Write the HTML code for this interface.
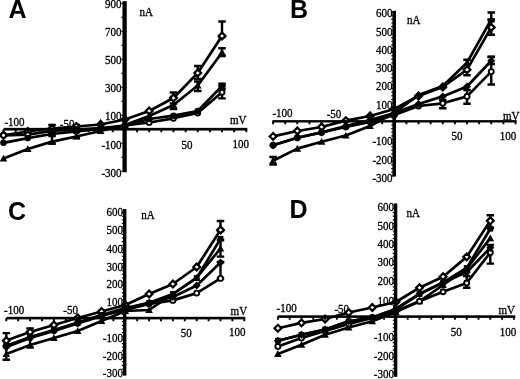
<!DOCTYPE html>
<html><head><meta charset="utf-8"><title>IV curves</title>
<style>html,body{margin:0;padding:0;background:#fff;overflow:hidden}svg{display:block;will-change:transform}</style>
</head><body>
<svg width="520" height="379" viewBox="0 0 520 379"><rect width="520" height="379" fill="#fff"/><g font-family='"Liberation Serif", serif' font-size="11.6" fill="#000" stroke="#000" stroke-width="0.3"><text x="8.5" y="18" stroke="none" style='font-family:"Liberation Sans", sans-serif;font-weight:bold' font-size="25">A</text><text transform="translate(121.6,8.4) scale(0.95,1)" text-anchor="end">900</text><text transform="translate(121.6,36.4) scale(0.95,1)" text-anchor="end">700</text><text transform="translate(121.6,64.3) scale(0.95,1)" text-anchor="end">500</text><text transform="translate(121.6,92) scale(0.95,1)" text-anchor="end">300</text><text transform="translate(121.6,120.3) scale(0.95,1)" text-anchor="end">100</text><text transform="translate(121.6,149) scale(0.95,1)" text-anchor="end">-100</text><text transform="translate(121.6,176.5) scale(0.95,1)" text-anchor="end">-300</text><text transform="translate(4.4,125.7) scale(0.95,1)">-100</text><text transform="translate(59.8,128.3) scale(0.95,1)">-50</text><text transform="translate(181.5,148.8) scale(0.95,1)">50</text><text transform="translate(232.4,148.3) scale(0.95,1)">100</text><text transform="translate(230,123.9) scale(0.95,1)">mV</text><text transform="translate(139.6,15.8) scale(0.95,1)">nA</text><text x="289.9" y="18.2" stroke="none" style='font-family:"Liberation Sans", sans-serif;font-weight:bold' font-size="25">B</text><text transform="translate(392.6,17.4) scale(0.95,1)" text-anchor="end">600</text><text transform="translate(392.6,35.8) scale(0.95,1)" text-anchor="end">500</text><text transform="translate(392.6,54) scale(0.95,1)" text-anchor="end">400</text><text transform="translate(392.6,71.5) scale(0.95,1)" text-anchor="end">300</text><text transform="translate(392.6,90.4) scale(0.95,1)" text-anchor="end">200</text><text transform="translate(392.6,108.7) scale(0.95,1)" text-anchor="end">100</text><text transform="translate(392.6,145.2) scale(0.95,1)" text-anchor="end">-100</text><text transform="translate(392.6,163.5) scale(0.95,1)" text-anchor="end">-200</text><text transform="translate(392.6,181.7) scale(0.95,1)" text-anchor="end">-300</text><text transform="translate(272.4,117.3) scale(0.95,1)">-100</text><text transform="translate(326.7,117.6) scale(0.95,1)">-50</text><text transform="translate(451.5,140) scale(0.95,1)">50</text><text transform="translate(499.7,140) scale(0.95,1)">100</text><text transform="translate(503,119.7) scale(0.95,1)">mV</text><text transform="translate(406.9,24.2) scale(0.95,1)">nA</text><text x="8" y="219.5" stroke="none" style='font-family:"Liberation Sans", sans-serif;font-weight:bold' font-size="25">C</text><text transform="translate(123,215.6) scale(0.95,1)" text-anchor="end">600</text><text transform="translate(123,234.2) scale(0.95,1)" text-anchor="end">500</text><text transform="translate(123,252.5) scale(0.95,1)" text-anchor="end">400</text><text transform="translate(123,271.1) scale(0.95,1)" text-anchor="end">300</text><text transform="translate(123,288.2) scale(0.95,1)" text-anchor="end">200</text><text transform="translate(123,306.1) scale(0.95,1)" text-anchor="end">100</text><text transform="translate(123,342) scale(0.95,1)" text-anchor="end">-100</text><text transform="translate(123,360.2) scale(0.95,1)" text-anchor="end">-200</text><text transform="translate(123,377.3) scale(0.95,1)" text-anchor="end">-300</text><text transform="translate(4,314.1) scale(0.95,1)">-100</text><text transform="translate(63.3,313.5) scale(0.95,1)">-50</text><text transform="translate(180.8,336.7) scale(0.95,1)">50</text><text transform="translate(229,336.4) scale(0.95,1)">100</text><text transform="translate(230.6,314.8) scale(0.95,1)">mV</text><text transform="translate(141.2,218.8) scale(0.95,1)">nA</text><text x="289.5" y="218.4" stroke="none" style='font-family:"Liberation Sans", sans-serif;font-weight:bold' font-size="25">D</text><text transform="translate(394,210.5) scale(0.95,1)" text-anchor="end">600</text><text transform="translate(394,230) scale(0.95,1)" text-anchor="end">500</text><text transform="translate(394,248.3) scale(0.95,1)" text-anchor="end">400</text><text transform="translate(394,266.4) scale(0.95,1)" text-anchor="end">300</text><text transform="translate(394,285.2) scale(0.95,1)" text-anchor="end">200</text><text transform="translate(394,304.8) scale(0.95,1)" text-anchor="end">100</text><text transform="translate(394,341.3) scale(0.95,1)" text-anchor="end">-100</text><text transform="translate(394,359.9) scale(0.95,1)" text-anchor="end">-200</text><text transform="translate(394,378) scale(0.95,1)" text-anchor="end">-300</text><text transform="translate(276.6,312.4) scale(0.95,1)">-100</text><text transform="translate(334.4,313.2) scale(0.95,1)">-50</text><text transform="translate(450.8,336) scale(0.95,1)">50</text><text transform="translate(499.8,335.5) scale(0.95,1)">100</text><text transform="translate(498.5,313.5) scale(0.95,1)">mV</text><text transform="translate(406.5,216.5) scale(0.95,1)">nA</text></g><g><polyline points="3.5,135.3 27.78,131.5 52.06,128.5 76.34,126.5 100.62,124.5 124.9,119.5 149.18,111 173.46,98 197.74,73 222.02,36" fill="none" stroke="#000" stroke-width="2.7" stroke-linejoin="round"/><polyline points="3.5,158.5 27.78,149 52.06,141.6 76.34,136.5 100.62,131 124.9,125 149.18,116 173.46,105 197.74,85.5 222.02,52.5" fill="none" stroke="#000" stroke-width="2.7" stroke-linejoin="round"/><polyline points="3.5,135.3 27.78,134.7 52.06,131 76.34,129.5 100.62,128 124.9,125.5 149.18,122.5 173.46,118.3 197.74,113 222.02,92.3" fill="none" stroke="#000" stroke-width="2.7" stroke-linejoin="round"/><polyline points="3.5,142.8 27.78,138.1 52.06,134 76.34,131.5 100.62,129 124.9,126 149.18,119 173.46,115.7 197.74,111 222.02,86" fill="none" stroke="#000" stroke-width="2.7" stroke-linejoin="round"/><path d="M52.06 125V133M48.31 125H55.81M48.31 133H55.81" stroke="#000" stroke-width="2.4" fill="none"/><path d="M76.34 125V131M72.59 125H80.09M72.59 131H80.09" stroke="#000" stroke-width="2.4" fill="none"/><path d="M173.46 92.5V103.5M169.71 92.5H177.21M169.71 103.5H177.21" stroke="#000" stroke-width="2.4" fill="none"/><path d="M197.74 66V79M193.99 66H201.49M193.99 79H201.49" stroke="#000" stroke-width="2.4" fill="none"/><path d="M222.02 21.5V37M218.27 21.5H225.77M218.27 37H225.77" stroke="#000" stroke-width="2.4" fill="none"/><path d="M52.06 136V143.5M48.31 136H55.81M48.31 143.5H55.81" stroke="#000" stroke-width="2.4" fill="none"/><path d="M76.34 132V138M72.59 132H80.09M72.59 138H80.09" stroke="#000" stroke-width="2.4" fill="none"/><path d="M173.46 97V109M169.71 97H177.21M169.71 109H177.21" stroke="#000" stroke-width="2.4" fill="none"/><path d="M197.74 81.5V91M193.99 81.5H201.49M193.99 91H201.49" stroke="#000" stroke-width="2.4" fill="none"/><path d="M222.02 48.2V56M218.27 48.2H225.77M218.27 56H225.77" stroke="#000" stroke-width="2.4" fill="none"/><path d="M222.02 86V98.4M218.27 86H225.77M218.27 98.4H225.77" stroke="#000" stroke-width="2.4" fill="none"/><path d="M222.02 83.6V89M218.27 83.6H225.77M218.27 89H225.77" stroke="#000" stroke-width="2.4" fill="none"/><path d="M3.5 131.9L6.9 135.3L3.5 138.7L0.1 135.3Z" fill="#fff" stroke="#000" stroke-width="2.2"/><path d="M27.78 128.1L31.18 131.5L27.78 134.9L24.38 131.5Z" fill="#fff" stroke="#000" stroke-width="2.2"/><path d="M52.06 125.1L55.46 128.5L52.06 131.9L48.66 128.5Z" fill="#fff" stroke="#000" stroke-width="2.2"/><path d="M76.34 123.1L79.74 126.5L76.34 129.9L72.94 126.5Z" fill="#fff" stroke="#000" stroke-width="2.2"/><path d="M100.62 121.1L104.02 124.5L100.62 127.9L97.22 124.5Z" fill="#fff" stroke="#000" stroke-width="2.2"/><path d="M124.9 116.1L128.3 119.5L124.9 122.9L121.5 119.5Z" fill="#fff" stroke="#000" stroke-width="2.2"/><path d="M149.18 107.6L152.58 111L149.18 114.4L145.78 111Z" fill="#fff" stroke="#000" stroke-width="2.2"/><path d="M173.46 94.6L176.86 98L173.46 101.4L170.06 98Z" fill="#fff" stroke="#000" stroke-width="2.2"/><path d="M197.74 69.6L201.14 73L197.74 76.4L194.34 73Z" fill="#fff" stroke="#000" stroke-width="2.2"/><path d="M222.02 32.6L225.42 36L222.02 39.4L218.62 36Z" fill="#fff" stroke="#000" stroke-width="2.2"/><path d="M3.5 154.7L7.3 161.54L-0.3 161.54Z" fill="#000"/><path d="M27.78 145.2L31.58 152.04L23.98 152.04Z" fill="#000"/><path d="M52.06 137.8L55.86 144.64L48.26 144.64Z" fill="#000"/><path d="M76.34 132.7L80.14 139.54L72.54 139.54Z" fill="#000"/><path d="M100.62 127.2L104.42 134.04L96.82 134.04Z" fill="#000"/><path d="M124.9 121.2L128.7 128.04L121.1 128.04Z" fill="#000"/><path d="M149.18 112.2L152.98 119.04L145.38 119.04Z" fill="#000"/><path d="M173.46 101.2L177.26 108.04L169.66 108.04Z" fill="#000"/><path d="M197.74 81.7L201.54 88.54L193.94 88.54Z" fill="#000"/><path d="M222.02 48.7L225.82 55.54L218.22 55.54Z" fill="#000"/><circle cx="3.5" cy="135.3" r="2.5" fill="#fff" stroke="#000" stroke-width="1.9"/><circle cx="27.78" cy="134.7" r="2.5" fill="#fff" stroke="#000" stroke-width="1.9"/><circle cx="52.06" cy="131" r="2.5" fill="#fff" stroke="#000" stroke-width="1.9"/><circle cx="76.34" cy="129.5" r="2.5" fill="#fff" stroke="#000" stroke-width="1.9"/><circle cx="100.62" cy="128" r="2.5" fill="#fff" stroke="#000" stroke-width="1.9"/><circle cx="124.9" cy="125.5" r="2.5" fill="#fff" stroke="#000" stroke-width="1.9"/><circle cx="149.18" cy="122.5" r="2.5" fill="#fff" stroke="#000" stroke-width="1.9"/><circle cx="173.46" cy="118.3" r="2.5" fill="#fff" stroke="#000" stroke-width="1.9"/><circle cx="197.74" cy="113" r="2.5" fill="#fff" stroke="#000" stroke-width="1.9"/><circle cx="222.02" cy="92.3" r="2.5" fill="#fff" stroke="#000" stroke-width="1.9"/><circle cx="3.5" cy="142.8" r="3.3" fill="#000"/><circle cx="27.78" cy="138.1" r="3.3" fill="#000"/><circle cx="52.06" cy="134" r="3.3" fill="#000"/><circle cx="76.34" cy="131.5" r="3.3" fill="#000"/><circle cx="100.62" cy="129" r="3.3" fill="#000"/><circle cx="124.9" cy="126" r="3.3" fill="#000"/><circle cx="149.18" cy="119" r="3.3" fill="#000"/><circle cx="173.46" cy="115.7" r="3.3" fill="#000"/><circle cx="197.74" cy="111" r="3.3" fill="#000"/><circle cx="222.02" cy="86" r="3.3" fill="#000"/><path d="M100.62 118.7L104.42 125.54L96.82 125.54Z" fill="#000"/></g><g><rect x="122.45" y="1.2" width="4.3" height="171" fill="#000"/><rect x="3.6" y="127.85" width="243.7" height="2.7" fill="#000"/><path d="M3.5 129.2V132.35M15.64 129.2V132.35M27.78 129.2V132.35M39.92 129.2V132.35M52.06 129.2V132.35M64.2 129.2V132.35M76.34 129.2V132.35M88.48 129.2V132.35M100.62 129.2V132.35M112.76 129.2V132.35M124.9 129.2V132.35M137.04 129.2V132.35M149.18 129.2V132.35M161.32 129.2V132.35M173.46 129.2V132.35M185.6 129.2V132.35M197.74 129.2V132.35M209.88 129.2V132.35M222.02 129.2V132.35M234.16 129.2V132.35M246.3 129.2V132.35" stroke="#000" stroke-width="1.9"/><path d="M121.25 171.2H124.6M121.25 157.2H124.6M121.25 143.2H124.6M121.25 129.2H124.6M121.25 115.2H124.6M121.25 101.2H124.6M121.25 87.2H124.6M121.25 73.2H124.6M121.25 59.2H124.6M121.25 45.2H124.6M121.25 31.2H124.6M121.25 17.2H124.6M121.25 3.2H124.6" stroke="#000" stroke-width="1.1"/></g><g><polyline points="273.1,136.4 297.34,131 321.58,127 345.82,120.6 370.06,116 394.3,109 418.54,96 442.78,87 467.02,69.7 491.26,27.4" fill="none" stroke="#000" stroke-width="2.7" stroke-linejoin="round"/><polyline points="273.1,160.7 297.34,148.6 321.58,141.8 345.82,135.5 370.06,126 394.3,113 418.54,95 442.78,86 467.02,62.7 491.26,19.5" fill="none" stroke="#000" stroke-width="2.7" stroke-linejoin="round"/><polyline points="273.1,145.2 297.34,137.8 321.58,132.4 345.82,127 370.06,122 394.3,115 418.54,106 442.78,103.3 467.02,96.4 491.26,71.6" fill="none" stroke="#000" stroke-width="2.7" stroke-linejoin="round"/><polyline points="273.1,145.2 297.34,137.8 321.58,132.4 345.82,126 370.06,120 394.3,113 418.54,104 442.78,96.4 467.02,86.5 491.26,60.8" fill="none" stroke="#000" stroke-width="2.7" stroke-linejoin="round"/><path d="M467.02 59.8V75.2M463.27 59.8H470.77M463.27 75.2H470.77" stroke="#000" stroke-width="2.4" fill="none"/><path d="M491.26 20V34.7M487.51 20H495.01M487.51 34.7H495.01" stroke="#000" stroke-width="2.4" fill="none"/><path d="M273.1 157V164.5M269.35 157H276.85M269.35 164.5H276.85" stroke="#000" stroke-width="2.4" fill="none"/><path d="M491.26 12.5V19.5M487.51 12.5H495.01M487.51 19.5H495.01" stroke="#000" stroke-width="2.4" fill="none"/><path d="M442.78 100V108.2M439.03 100H446.53M439.03 108.2H446.53" stroke="#000" stroke-width="2.4" fill="none"/><path d="M467.02 90V103.7M463.27 90H470.77M463.27 103.7H470.77" stroke="#000" stroke-width="2.4" fill="none"/><path d="M491.26 57V84.5M487.51 57H495.01M487.51 84.5H495.01" stroke="#000" stroke-width="2.4" fill="none"/><path d="M491.26 56.8V64M487.51 56.8H495.01M487.51 64H495.01" stroke="#000" stroke-width="2.4" fill="none"/><path d="M273.1 133L276.5 136.4L273.1 139.8L269.7 136.4Z" fill="#fff" stroke="#000" stroke-width="2.2"/><path d="M297.34 127.6L300.74 131L297.34 134.4L293.94 131Z" fill="#fff" stroke="#000" stroke-width="2.2"/><path d="M321.58 123.6L324.98 127L321.58 130.4L318.18 127Z" fill="#fff" stroke="#000" stroke-width="2.2"/><path d="M345.82 117.2L349.22 120.6L345.82 124L342.42 120.6Z" fill="#fff" stroke="#000" stroke-width="2.2"/><path d="M370.06 112.6L373.46 116L370.06 119.4L366.66 116Z" fill="#fff" stroke="#000" stroke-width="2.2"/><path d="M394.3 105.6L397.7 109L394.3 112.4L390.9 109Z" fill="#fff" stroke="#000" stroke-width="2.2"/><path d="M418.54 92.6L421.94 96L418.54 99.4L415.14 96Z" fill="#fff" stroke="#000" stroke-width="2.2"/><path d="M442.78 83.6L446.18 87L442.78 90.4L439.38 87Z" fill="#fff" stroke="#000" stroke-width="2.2"/><path d="M467.02 66.3L470.42 69.7L467.02 73.1L463.62 69.7Z" fill="#fff" stroke="#000" stroke-width="2.2"/><path d="M491.26 24L494.66 27.4L491.26 30.8L487.86 27.4Z" fill="#fff" stroke="#000" stroke-width="2.2"/><path d="M273.1 156.9L276.9 163.74L269.3 163.74Z" fill="#000"/><path d="M297.34 144.8L301.14 151.64L293.54 151.64Z" fill="#000"/><path d="M321.58 138L325.38 144.84L317.78 144.84Z" fill="#000"/><path d="M345.82 131.7L349.62 138.54L342.02 138.54Z" fill="#000"/><path d="M370.06 122.2L373.86 129.04L366.26 129.04Z" fill="#000"/><path d="M394.3 109.2L398.1 116.04L390.5 116.04Z" fill="#000"/><path d="M418.54 91.2L422.34 98.04L414.74 98.04Z" fill="#000"/><path d="M442.78 82.2L446.58 89.04L438.98 89.04Z" fill="#000"/><path d="M467.02 58.9L470.82 65.74L463.22 65.74Z" fill="#000"/><path d="M491.26 15.7L495.06 22.54L487.46 22.54Z" fill="#000"/><circle cx="273.1" cy="145.2" r="2.5" fill="#fff" stroke="#000" stroke-width="1.9"/><circle cx="297.34" cy="137.8" r="2.5" fill="#fff" stroke="#000" stroke-width="1.9"/><circle cx="321.58" cy="132.4" r="2.5" fill="#fff" stroke="#000" stroke-width="1.9"/><circle cx="345.82" cy="127" r="2.5" fill="#fff" stroke="#000" stroke-width="1.9"/><circle cx="370.06" cy="122" r="2.5" fill="#fff" stroke="#000" stroke-width="1.9"/><circle cx="394.3" cy="115" r="2.5" fill="#fff" stroke="#000" stroke-width="1.9"/><circle cx="418.54" cy="106" r="2.5" fill="#fff" stroke="#000" stroke-width="1.9"/><circle cx="442.78" cy="103.3" r="2.5" fill="#fff" stroke="#000" stroke-width="1.9"/><circle cx="467.02" cy="96.4" r="2.5" fill="#fff" stroke="#000" stroke-width="1.9"/><circle cx="491.26" cy="71.6" r="2.5" fill="#fff" stroke="#000" stroke-width="1.9"/><path d="M273.1 141.2L277.1 145.2L273.1 149.2L269.1 145.2Z" fill="#000"/><path d="M297.34 133.8L301.34 137.8L297.34 141.8L293.34 137.8Z" fill="#000"/><path d="M321.58 128.4L325.58 132.4L321.58 136.4L317.58 132.4Z" fill="#000"/><path d="M345.82 122L349.82 126L345.82 130L341.82 126Z" fill="#000"/><path d="M370.06 116L374.06 120L370.06 124L366.06 120Z" fill="#000"/><path d="M394.3 109L398.3 113L394.3 117L390.3 113Z" fill="#000"/><path d="M418.54 100L422.54 104L418.54 108L414.54 104Z" fill="#000"/><path d="M442.78 92.4L446.78 96.4L442.78 100.4L438.78 96.4Z" fill="#000"/><path d="M467.02 82.5L471.02 86.5L467.02 90.5L463.02 86.5Z" fill="#000"/><path d="M491.26 56.8L495.26 60.8L491.26 64.8L487.26 60.8Z" fill="#000"/><path d="M370.06 111L373.86 117.84L366.26 117.84Z" fill="#000"/></g><g><rect x="392.4" y="10.8" width="3.6" height="165.7" fill="#000"/><rect x="272.4" y="120.1" width="244.2" height="2.4" fill="#000"/><path d="M273.1 121.3V124.3M285.22 121.3V124.3M297.34 121.3V124.3M309.46 121.3V124.3M321.58 121.3V124.3M333.7 121.3V124.3M345.82 121.3V124.3M357.94 121.3V124.3M370.06 121.3V124.3M382.18 121.3V124.3M394.3 121.3V124.3M406.42 121.3V124.3M418.54 121.3V124.3M430.66 121.3V124.3M442.78 121.3V124.3M454.9 121.3V124.3M467.02 121.3V124.3M479.14 121.3V124.3M491.26 121.3V124.3M503.38 121.3V124.3M515.5 121.3V124.3" stroke="#000" stroke-width="1.9"/><path d="M391.2 175.9H394.2M391.2 172.26H394.2M391.2 168.62H394.2M391.2 164.98H394.2M391.2 161.34H394.2M391.2 157.7H394.2M391.2 154.06H394.2M391.2 150.42H394.2M391.2 146.78H394.2M391.2 143.14H394.2M391.2 139.5H394.2M391.2 135.86H394.2M391.2 132.22H394.2M391.2 128.58H394.2M391.2 124.94H394.2M391.2 121.3H394.2M391.2 117.66H394.2M391.2 114.02H394.2M391.2 110.38H394.2M391.2 106.74H394.2M391.2 103.1H394.2M391.2 99.46H394.2M391.2 95.82H394.2M391.2 92.18H394.2M391.2 88.54H394.2M391.2 84.9H394.2M391.2 81.26H394.2M391.2 77.62H394.2M391.2 73.98H394.2M391.2 70.34H394.2M391.2 66.7H394.2M391.2 63.06H394.2M391.2 59.42H394.2M391.2 55.78H394.2M391.2 52.14H394.2M391.2 48.5H394.2M391.2 44.86H394.2M391.2 41.22H394.2M391.2 37.58H394.2M391.2 33.94H394.2M391.2 30.3H394.2M391.2 26.66H394.2M391.2 23.02H394.2M391.2 19.38H394.2M391.2 15.74H394.2M391.2 12.1H394.2" stroke="#000" stroke-width="1.1"/></g><g><polyline points="6.3,340.6 30.1,332 53.9,325 77.7,318 101.5,311.5 125.3,305 149.1,294 172.9,284 196.7,267 220.5,230" fill="none" stroke="#000" stroke-width="2.7" stroke-linejoin="round"/><polyline points="6.3,346 30.1,337 53.9,330 77.7,322.5 101.5,315 125.3,308 149.1,302.8 172.9,294 196.7,278 220.5,238.8" fill="none" stroke="#000" stroke-width="2.7" stroke-linejoin="round"/><polyline points="6.3,354 30.1,345 53.9,338 77.7,331 101.5,321 125.3,311 149.1,310 172.9,294 196.7,277.7 220.5,248.5" fill="none" stroke="#000" stroke-width="2.7" stroke-linejoin="round"/><polyline points="6.3,346 30.1,337.5 53.9,330.5 77.7,323 101.5,315.5 125.3,310 149.1,304 172.9,300.4 196.7,293.1 220.5,278.4" fill="none" stroke="#000" stroke-width="2.7" stroke-linejoin="round"/><polyline points="6.3,347 30.1,338 53.9,331 77.7,323.5 101.5,316 125.3,309 149.1,302.8 172.9,297 196.7,285.5 220.5,262.5" fill="none" stroke="#000" stroke-width="2.7" stroke-linejoin="round"/><path d="M6.3 333.1V341M2.55 333.1H10.05M2.55 341H10.05" stroke="#000" stroke-width="2.4" fill="none"/><path d="M220.5 221V231M216.75 221H224.25M216.75 231H224.25" stroke="#000" stroke-width="2.4" fill="none"/><path d="M6.3 346V359.8M2.55 346H10.05M2.55 359.8H10.05" stroke="#000" stroke-width="2.4" fill="none"/><path d="M30.1 328.4V347.6M26.35 328.4H33.85M26.35 347.6H33.85" stroke="#000" stroke-width="2.4" fill="none"/><path d="M220.5 240V256.6M216.75 240H224.25M216.75 256.6H224.25" stroke="#000" stroke-width="2.4" fill="none"/><path d="M220.5 262V278.4M216.75 262H224.25M216.75 278.4H224.25" stroke="#000" stroke-width="2.4" fill="none"/><path d="M6.3 337.2L9.7 340.6L6.3 344L2.9 340.6Z" fill="#fff" stroke="#000" stroke-width="2.2"/><path d="M30.1 328.6L33.5 332L30.1 335.4L26.7 332Z" fill="#fff" stroke="#000" stroke-width="2.2"/><path d="M53.9 321.6L57.3 325L53.9 328.4L50.5 325Z" fill="#fff" stroke="#000" stroke-width="2.2"/><path d="M77.7 314.6L81.1 318L77.7 321.4L74.3 318Z" fill="#fff" stroke="#000" stroke-width="2.2"/><path d="M101.5 308.1L104.9 311.5L101.5 314.9L98.1 311.5Z" fill="#fff" stroke="#000" stroke-width="2.2"/><path d="M125.3 301.6L128.7 305L125.3 308.4L121.9 305Z" fill="#fff" stroke="#000" stroke-width="2.2"/><path d="M149.1 290.6L152.5 294L149.1 297.4L145.7 294Z" fill="#fff" stroke="#000" stroke-width="2.2"/><path d="M172.9 280.6L176.3 284L172.9 287.4L169.5 284Z" fill="#fff" stroke="#000" stroke-width="2.2"/><path d="M196.7 263.6L200.1 267L196.7 270.4L193.3 267Z" fill="#fff" stroke="#000" stroke-width="2.2"/><path d="M220.5 226.6L223.9 230L220.5 233.4L217.1 230Z" fill="#fff" stroke="#000" stroke-width="2.2"/><rect x="3.4" y="343.1" width="5.8" height="5.8" fill="#000"/><rect x="27.2" y="334.1" width="5.8" height="5.8" fill="#000"/><rect x="51" y="327.1" width="5.8" height="5.8" fill="#000"/><rect x="74.8" y="319.6" width="5.8" height="5.8" fill="#000"/><rect x="98.6" y="312.1" width="5.8" height="5.8" fill="#000"/><rect x="122.4" y="305.1" width="5.8" height="5.8" fill="#000"/><rect x="146.2" y="299.9" width="5.8" height="5.8" fill="#000"/><rect x="170" y="291.1" width="5.8" height="5.8" fill="#000"/><rect x="193.8" y="275.1" width="5.8" height="5.8" fill="#000"/><rect x="217.6" y="235.9" width="5.8" height="5.8" fill="#000"/><path d="M6.3 350.2L10.1 357.04L2.5 357.04Z" fill="#000"/><path d="M30.1 341.2L33.9 348.04L26.3 348.04Z" fill="#000"/><path d="M53.9 334.2L57.7 341.04L50.1 341.04Z" fill="#000"/><path d="M77.7 327.2L81.5 334.04L73.9 334.04Z" fill="#000"/><path d="M101.5 317.2L105.3 324.04L97.7 324.04Z" fill="#000"/><path d="M125.3 307.2L129.1 314.04L121.5 314.04Z" fill="#000"/><path d="M149.1 306.2L152.9 313.04L145.3 313.04Z" fill="#000"/><path d="M172.9 290.2L176.7 297.04L169.1 297.04Z" fill="#000"/><path d="M196.7 273.9L200.5 280.74L192.9 280.74Z" fill="#000"/><path d="M220.5 244.7L224.3 251.54L216.7 251.54Z" fill="#000"/><circle cx="6.3" cy="346" r="2.5" fill="#fff" stroke="#000" stroke-width="1.9"/><circle cx="30.1" cy="337.5" r="2.5" fill="#fff" stroke="#000" stroke-width="1.9"/><circle cx="53.9" cy="330.5" r="2.5" fill="#fff" stroke="#000" stroke-width="1.9"/><circle cx="77.7" cy="323" r="2.5" fill="#fff" stroke="#000" stroke-width="1.9"/><circle cx="101.5" cy="315.5" r="2.5" fill="#fff" stroke="#000" stroke-width="1.9"/><circle cx="125.3" cy="310" r="2.5" fill="#fff" stroke="#000" stroke-width="1.9"/><circle cx="149.1" cy="304" r="2.5" fill="#fff" stroke="#000" stroke-width="1.9"/><circle cx="172.9" cy="300.4" r="2.5" fill="#fff" stroke="#000" stroke-width="1.9"/><circle cx="196.7" cy="293.1" r="2.5" fill="#fff" stroke="#000" stroke-width="1.9"/><circle cx="220.5" cy="278.4" r="2.5" fill="#fff" stroke="#000" stroke-width="1.9"/><path d="M6.3 343L10.3 347L6.3 351L2.3 347Z" fill="#000"/><path d="M30.1 334L34.1 338L30.1 342L26.1 338Z" fill="#000"/><path d="M53.9 327L57.9 331L53.9 335L49.9 331Z" fill="#000"/><path d="M77.7 319.5L81.7 323.5L77.7 327.5L73.7 323.5Z" fill="#000"/><path d="M101.5 312L105.5 316L101.5 320L97.5 316Z" fill="#000"/><path d="M125.3 305L129.3 309L125.3 313L121.3 309Z" fill="#000"/><path d="M149.1 298.8L153.1 302.8L149.1 306.8L145.1 302.8Z" fill="#000"/><path d="M172.9 293L176.9 297L172.9 301L168.9 297Z" fill="#000"/><path d="M196.7 281.5L200.7 285.5L196.7 289.5L192.7 285.5Z" fill="#000"/><path d="M220.5 258.5L224.5 262.5L220.5 266.5L216.5 262.5Z" fill="#000"/></g><g><rect x="123" y="209" width="3.4" height="166.6" fill="#000"/><rect x="6.6" y="316.8" width="238.6" height="2.6" fill="#000"/><path d="M6.3 318.1V321.2M18.2 318.1V321.2M30.1 318.1V321.2M42 318.1V321.2M53.9 318.1V321.2M65.8 318.1V321.2M77.7 318.1V321.2M89.6 318.1V321.2M101.5 318.1V321.2M113.4 318.1V321.2M125.3 318.1V321.2M137.2 318.1V321.2M149.1 318.1V321.2M161 318.1V321.2M172.9 318.1V321.2M184.8 318.1V321.2M196.7 318.1V321.2M208.6 318.1V321.2M220.5 318.1V321.2M232.4 318.1V321.2M244.3 318.1V321.2" stroke="#000" stroke-width="1.9"/><path d="M121.8 372.7H124.7M121.8 369.06H124.7M121.8 365.42H124.7M121.8 361.78H124.7M121.8 358.14H124.7M121.8 354.5H124.7M121.8 350.86H124.7M121.8 347.22H124.7M121.8 343.58H124.7M121.8 339.94H124.7M121.8 336.3H124.7M121.8 332.66H124.7M121.8 329.02H124.7M121.8 325.38H124.7M121.8 321.74H124.7M121.8 318.1H124.7M121.8 314.46H124.7M121.8 310.82H124.7M121.8 307.18H124.7M121.8 303.54H124.7M121.8 299.9H124.7M121.8 296.26H124.7M121.8 292.62H124.7M121.8 288.98H124.7M121.8 285.34H124.7M121.8 281.7H124.7M121.8 278.06H124.7M121.8 274.42H124.7M121.8 270.78H124.7M121.8 267.14H124.7M121.8 263.5H124.7M121.8 259.86H124.7M121.8 256.22H124.7M121.8 252.58H124.7M121.8 248.94H124.7M121.8 245.3H124.7M121.8 241.66H124.7M121.8 238.02H124.7M121.8 234.38H124.7M121.8 230.74H124.7M121.8 227.1H124.7M121.8 223.46H124.7M121.8 219.82H124.7M121.8 216.18H124.7M121.8 212.54H124.7" stroke="#000" stroke-width="1.1"/></g><g><polyline points="277.9,328.2 301.5,322.9 325.1,319 348.7,312.5 372.3,307.5 395.9,302 419.5,287.7 443.1,276.7 466.7,256.9 490.3,220.8" fill="none" stroke="#000" stroke-width="2.7" stroke-linejoin="round"/><polyline points="277.9,340.7 301.5,334.8 325.1,329.5 348.7,321.3 372.3,317.5 395.9,309 419.5,294 443.1,282.5 466.7,268 490.3,228.7" fill="none" stroke="#000" stroke-width="2.7" stroke-linejoin="round"/><polyline points="277.9,353.9 301.5,344.7 325.1,334.8 348.7,327.5 372.3,321.3 395.9,312 419.5,301.3 443.1,285 466.7,268.7 490.3,238.2" fill="none" stroke="#000" stroke-width="2.7" stroke-linejoin="round"/><polyline points="277.9,346.4 301.5,338 325.1,331 348.7,324 372.3,318 395.9,311 419.5,301.3 443.1,291.7 466.7,283 490.3,252.5" fill="none" stroke="#000" stroke-width="2.7" stroke-linejoin="round"/><polyline points="277.9,340.7 301.5,334.8 325.1,329.5 348.7,321.3 372.3,317.5 395.9,309 419.5,294 443.1,282.5 466.7,272.3 490.3,247.7" fill="none" stroke="#000" stroke-width="2.7" stroke-linejoin="round"/><path d="M490.3 215.3V228M486.55 215.3H494.05M486.55 228H494.05" stroke="#000" stroke-width="2.4" fill="none"/><path d="M466.7 276V287.7M462.95 276H470.45M462.95 287.7H470.45" stroke="#000" stroke-width="2.4" fill="none"/><path d="M490.3 245V263.6M486.55 245H494.05M486.55 263.6H494.05" stroke="#000" stroke-width="2.4" fill="none"/><path d="M277.9 324.8L281.3 328.2L277.9 331.6L274.5 328.2Z" fill="#fff" stroke="#000" stroke-width="2.2"/><path d="M301.5 319.5L304.9 322.9L301.5 326.3L298.1 322.9Z" fill="#fff" stroke="#000" stroke-width="2.2"/><path d="M325.1 315.6L328.5 319L325.1 322.4L321.7 319Z" fill="#fff" stroke="#000" stroke-width="2.2"/><path d="M348.7 309.1L352.1 312.5L348.7 315.9L345.3 312.5Z" fill="#fff" stroke="#000" stroke-width="2.2"/><path d="M372.3 304.1L375.7 307.5L372.3 310.9L368.9 307.5Z" fill="#fff" stroke="#000" stroke-width="2.2"/><path d="M395.9 298.6L399.3 302L395.9 305.4L392.5 302Z" fill="#fff" stroke="#000" stroke-width="2.2"/><path d="M419.5 284.3L422.9 287.7L419.5 291.1L416.1 287.7Z" fill="#fff" stroke="#000" stroke-width="2.2"/><path d="M443.1 273.3L446.5 276.7L443.1 280.1L439.7 276.7Z" fill="#fff" stroke="#000" stroke-width="2.2"/><path d="M466.7 253.5L470.1 256.9L466.7 260.3L463.3 256.9Z" fill="#fff" stroke="#000" stroke-width="2.2"/><path d="M490.3 217.4L493.7 220.8L490.3 224.2L486.9 220.8Z" fill="#fff" stroke="#000" stroke-width="2.2"/><rect x="275" y="337.8" width="5.8" height="5.8" fill="#000"/><rect x="298.6" y="331.9" width="5.8" height="5.8" fill="#000"/><rect x="322.2" y="326.6" width="5.8" height="5.8" fill="#000"/><rect x="345.8" y="318.4" width="5.8" height="5.8" fill="#000"/><rect x="369.4" y="314.6" width="5.8" height="5.8" fill="#000"/><rect x="393" y="306.1" width="5.8" height="5.8" fill="#000"/><rect x="416.6" y="291.1" width="5.8" height="5.8" fill="#000"/><rect x="440.2" y="279.6" width="5.8" height="5.8" fill="#000"/><rect x="463.8" y="265.1" width="5.8" height="5.8" fill="#000"/><rect x="487.4" y="225.8" width="5.8" height="5.8" fill="#000"/><path d="M277.9 350.1L281.7 356.94L274.1 356.94Z" fill="#000"/><path d="M301.5 340.9L305.3 347.74L297.7 347.74Z" fill="#000"/><path d="M325.1 331L328.9 337.84L321.3 337.84Z" fill="#000"/><path d="M348.7 323.7L352.5 330.54L344.9 330.54Z" fill="#000"/><path d="M372.3 317.5L376.1 324.34L368.5 324.34Z" fill="#000"/><path d="M395.9 308.2L399.7 315.04L392.1 315.04Z" fill="#000"/><path d="M419.5 297.5L423.3 304.34L415.7 304.34Z" fill="#000"/><path d="M443.1 281.2L446.9 288.04L439.3 288.04Z" fill="#000"/><path d="M466.7 264.9L470.5 271.74L462.9 271.74Z" fill="#000"/><path d="M490.3 234.4L494.1 241.24L486.5 241.24Z" fill="#000"/><circle cx="277.9" cy="346.4" r="2.5" fill="#fff" stroke="#000" stroke-width="1.9"/><circle cx="301.5" cy="338" r="2.5" fill="#fff" stroke="#000" stroke-width="1.9"/><circle cx="325.1" cy="331" r="2.5" fill="#fff" stroke="#000" stroke-width="1.9"/><circle cx="348.7" cy="324" r="2.5" fill="#fff" stroke="#000" stroke-width="1.9"/><circle cx="372.3" cy="318" r="2.5" fill="#fff" stroke="#000" stroke-width="1.9"/><circle cx="395.9" cy="311" r="2.5" fill="#fff" stroke="#000" stroke-width="1.9"/><circle cx="419.5" cy="301.3" r="2.5" fill="#fff" stroke="#000" stroke-width="1.9"/><circle cx="443.1" cy="291.7" r="2.5" fill="#fff" stroke="#000" stroke-width="1.9"/><circle cx="466.7" cy="283" r="2.5" fill="#fff" stroke="#000" stroke-width="1.9"/><circle cx="490.3" cy="252.5" r="2.5" fill="#fff" stroke="#000" stroke-width="1.9"/><path d="M277.9 336.7L281.9 340.7L277.9 344.7L273.9 340.7Z" fill="#000"/><path d="M301.5 330.8L305.5 334.8L301.5 338.8L297.5 334.8Z" fill="#000"/><path d="M325.1 325.5L329.1 329.5L325.1 333.5L321.1 329.5Z" fill="#000"/><path d="M348.7 317.3L352.7 321.3L348.7 325.3L344.7 321.3Z" fill="#000"/><path d="M372.3 313.5L376.3 317.5L372.3 321.5L368.3 317.5Z" fill="#000"/><path d="M395.9 305L399.9 309L395.9 313L391.9 309Z" fill="#000"/><path d="M419.5 290L423.5 294L419.5 298L415.5 294Z" fill="#000"/><path d="M443.1 278.5L447.1 282.5L443.1 286.5L439.1 282.5Z" fill="#000"/><path d="M466.7 268.3L470.7 272.3L466.7 276.3L462.7 272.3Z" fill="#000"/><path d="M490.3 243.7L494.3 247.7L490.3 251.7L486.3 247.7Z" fill="#000"/></g><g><rect x="393.9" y="203.4" width="3.4" height="173.4" fill="#000"/><rect x="277.9" y="315.3" width="237.4" height="2.6" fill="#000"/><path d="M277.9 316.6V319.7M289.7 316.6V319.7M301.5 316.6V319.7M313.3 316.6V319.7M325.1 316.6V319.7M336.9 316.6V319.7M348.7 316.6V319.7M360.5 316.6V319.7M372.3 316.6V319.7M384.1 316.6V319.7M395.9 316.6V319.7M407.7 316.6V319.7M419.5 316.6V319.7M431.3 316.6V319.7M443.1 316.6V319.7M454.9 316.6V319.7M466.7 316.6V319.7M478.5 316.6V319.7M490.3 316.6V319.7M502.1 316.6V319.7M513.9 316.6V319.7" stroke="#000" stroke-width="1.9"/><path d="M392.7 372.4H395.6M392.7 368.68H395.6M392.7 364.96H395.6M392.7 361.24H395.6M392.7 357.52H395.6M392.7 353.8H395.6M392.7 350.08H395.6M392.7 346.36H395.6M392.7 342.64H395.6M392.7 338.92H395.6M392.7 335.2H395.6M392.7 331.48H395.6M392.7 327.76H395.6M392.7 324.04H395.6M392.7 320.32H395.6M392.7 316.6H395.6M392.7 312.88H395.6M392.7 309.16H395.6M392.7 305.44H395.6M392.7 301.72H395.6M392.7 298H395.6M392.7 294.28H395.6M392.7 290.56H395.6M392.7 286.84H395.6M392.7 283.12H395.6M392.7 279.4H395.6M392.7 275.68H395.6M392.7 271.96H395.6M392.7 268.24H395.6M392.7 264.52H395.6M392.7 260.8H395.6M392.7 257.08H395.6M392.7 253.36H395.6M392.7 249.64H395.6M392.7 245.92H395.6M392.7 242.2H395.6M392.7 238.48H395.6M392.7 234.76H395.6M392.7 231.04H395.6M392.7 227.32H395.6M392.7 223.6H395.6M392.7 219.88H395.6M392.7 216.16H395.6M392.7 212.44H395.6M392.7 208.72H395.6M392.7 205H395.6" stroke="#000" stroke-width="1.1"/></g></svg>
</body></html>
